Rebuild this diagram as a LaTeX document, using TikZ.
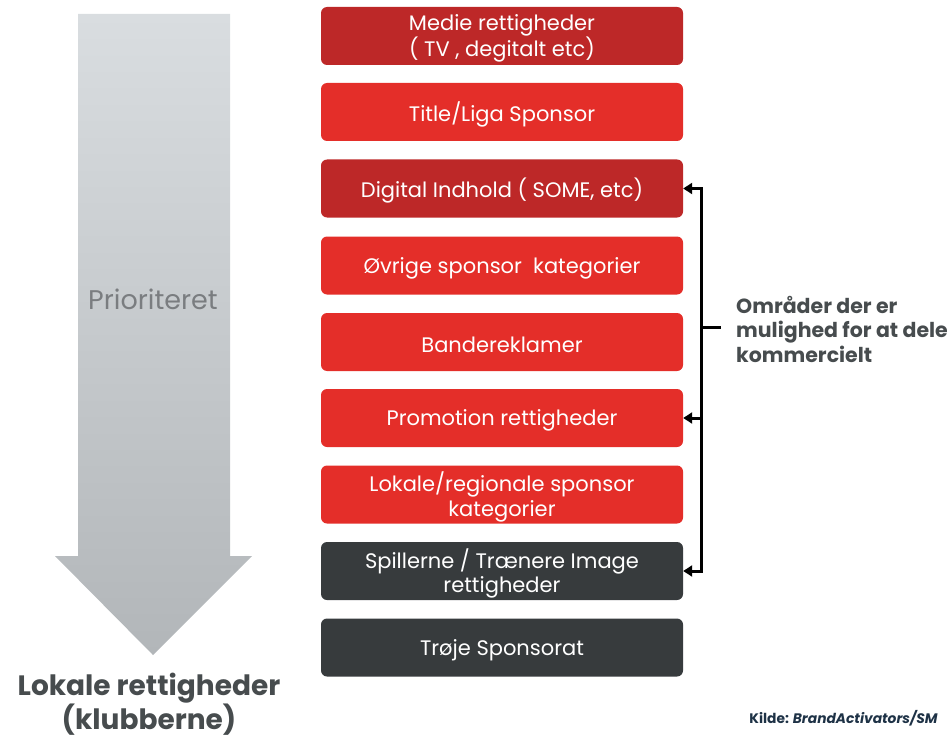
\documentclass[tikz,border=0pt]{standalone}
\usepackage{fontspec}
\setmainfont{Poppins}
\usetikzlibrary{arrows.meta,calc}
\definecolor{boxdark}{HTML}{BD2828}
\definecolor{boxred}{HTML}{E42E29}
\definecolor{boxgray}{HTML}{373B3D}
\definecolor{arrowtop}{HTML}{D9DDE0}
\definecolor{arrowbot}{HTML}{B2B6B9}
\definecolor{labelgray}{HTML}{474C4E}
\definecolor{prioritygray}{HTML}{7A7D80}
\definecolor{sourcenavy}{HTML}{1E3246}
\tikzset{
  rightbox/.style={rectangle, rounded corners=6pt, minimum width=362pt, minimum height=58pt,
    inner sep=0pt},
  boxlabel/.style={text=white, align=center, font=\fontsize{21}{24.5}\selectfont, inner sep=0pt},
  bracketline/.style={line width=3pt, black},
  bracketarrow/.style={line width=3pt, black, -{Triangle[length=9pt,width=11pt]}},
}
\begin{document}
\begin{tikzpicture}[x=1pt,y=-1pt]
\useasboundingbox (0,0) rectangle (952,738);
% big priority arrow
\shade[top color=arrowtop, bottom color=arrowbot]
  (78,14) -- (230,14) -- (230,556) -- (252,556) -- (153,655) -- (55,556) -- (78,556) -- cycle;
\node[text=prioritygray, font=\fontsize{27}{30}\selectfont] (prio) at (153,299) {Prioriteret};
\node[text=labelgray, font=\fontsize{28}{31.5}\selectfont\bfseries, align=center, inner sep=0pt] (local) at (149,704)
  {Lokale rettigheder\\(klubberne)};
% right-hand column of rights
\node[rightbox, fill=boxdark] (b1) at (502,36) {};
\node[rightbox, fill=boxred]  (b2) at (502,112) {};
\node[rightbox, fill=boxdark] (b3) at (502,188.5) {};
\node[rightbox, fill=boxred]  (b4) at (502,265.5) {};
\node[rightbox, fill=boxred]  (b5) at (502,342) {};
\node[rightbox, fill=boxred]  (b6) at (502,418) {};
\node[rightbox, fill=boxred]  (b7) at (502,494.5) {};
\node[rightbox, fill=boxgray] (b8) at (502,571) {};
\node[rightbox, fill=boxgray] (b9) at (502,647.5) {};
% box labels, set slightly below the geometric centre
\node[boxlabel] (t1) at ($(b1)+(0,2.5)$) {Medie rettigheder\\( TV , degitalt etc)};
\node[boxlabel] (t2) at ($(b2)+(0,2.5)$) {Title/Liga Sponsor};
\node[boxlabel] (t3) at ($(b3)+(0,2.5)$) {Digital Indhold ( SOME, etc)};
\node[boxlabel] (t4) at ($(b4)+(0,2.5)$) {Øvrige sponsor\ \ kategorier};
\node[boxlabel] (t5) at ($(b5)+(0,2.5)$) {Bandereklamer};
\node[boxlabel] (t6) at ($(b6)+(0,2.5)$) {Promotion rettigheder};
\node[boxlabel] (t7) at ($(b7)+(0,2.5)$) {Lokale/regionale sponsor\\kategorier};
\node[boxlabel] (t8) at ($(b8)+(0,2.5)$) {Spillerne / Trænere Image\\rettigheder};
\node[boxlabel] (t9) at ($(b9)+(0,2.5)$) {Trøje Sponsorat};
% bracket for shared commercial areas
\coordinate (btop) at (701,188.5);
\coordinate (bmid) at (701,418);
\coordinate (bbot) at (701,571);
\coordinate (btick) at (701,327);
\coordinate (btickend) at (721,327);
\draw[bracketline] ($(btop)+(0,-1.5)$) -- ($(bbot)+(0,1.5)$);
\draw[bracketarrow] (btop) -- (b3.east);
\draw[bracketarrow] (bmid) -- (b6.east);
\draw[bracketarrow] (bbot) -- (b8.east);
\draw[bracketline] (btick) -- (btickend);
\node[anchor=west, text=labelgray, align=left, font=\fontsize{20.5}{24.5}\selectfont\bfseries, inner sep=0pt] (shared) at (736,329)
  {Områder der er\\mulighed for at dele\\kommercielt};
% source note
\node[anchor=east, text=sourcenavy, font=\fontsize{13.8}{16}\selectfont\bfseries, inner sep=0pt] (source) at (938,718)
  {Kilde: \textit{BrandActivators/SM}};
\end{tikzpicture}
\end{document}
